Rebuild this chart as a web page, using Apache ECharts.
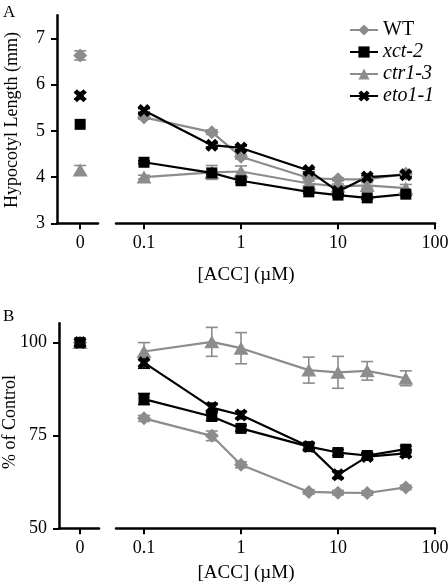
<!DOCTYPE html>
<html><head><meta charset="utf-8">
<script src="https://cdn.jsdelivr.net/npm/echarts@6/dist/echarts.min.js"></script>
<style>html,body{margin:0;padding:0;background:#fff}#c{width:448px;height:588px}</style>
</head><body><div id="c"></div>
<script>
// ---------- data ----------
const genotypes = ['WT', 'xct-2', 'ctr1-3', 'eto1-1'];
const concentrations = [0.1, 0.5, 1, 5, 10, 20, 50];
const xTickValues = [0.1, 1, 10, 100];
const xTickLabels = ['0.1', '1', '10', '100'];
const controlTickLabel = '0';
const lengthTicks = [3, 4, 5, 6, 7];
const percentTicks = [50, 75, 100];

// Panel A: hypocotyl length (mm); control (0 µM) values and errors
const lengthControl    = [6.63, 5.14, 4.15, 5.76];
const lengthControlErr = [0.10, 0.00, 0.10, 0.07];
const lengthWT     = [5.29, 4.97, 4.44, 3.98, 3.95, 3.95, 4.07];
const lengthXct    = [4.32, 4.09, 3.92, 3.68, 3.61, 3.55, 3.63];
const lengthCtr    = [4.00, 4.10, 4.12, 3.86, 3.80, 3.82, 3.76];
const lengthEto    = [5.44, 4.69, 4.63, 4.14, 3.69, 4.00, 4.05];
const lengthWTErr  = [0.04, 0.05, 0.05, 0.03, 0.03, 0.03, 0.05];
const lengthXctErr = [0.03, 0.03, 0.03, 0.03, 0.03, 0.03, 0.03];
const lengthCtrErr = [0.04, 0.15, 0.12, 0.05, 0.05, 0.06, 0.08];
const lengthEtoErr = [0.04, 0.04, 0.04, 0.03, 0.03, 0.03, 0.04];

// Panel B: % of control
const percentControl    = [100, 100, 100, 100];
const percentControlErr = [0, 0, 0, 0];
const percentWT     = [79.6, 74.9, 67.1, 59.8, 59.6, 59.5, 61.0];
const percentXct    = [84.8, 80.1, 76.9, 72.0, 70.4, 69.6, 71.3];
const percentCtr    = [97.6, 100.2, 98.5, 92.6, 92.0, 92.4, 90.4];
const percentEto    = [94.6, 82.5, 80.5, 72.0, 64.4, 69.3, 70.2];
const percentWTErr  = [0.8, 1.3, 0.8, 0.6, 0.6, 0.6, 0.6];
const percentXctErr = [1.5, 1.0, 0.8, 0.8, 0.8, 0.8, 0.8];
const percentCtrErr = [2.4, 3.9, 4.2, 3.5, 4.3, 2.5, 2.0];
const percentEtoErr = [1.5, 1.2, 1.0, 1.0, 1.0, 0.8, 1.0];

// ---------- styles ----------
const GREY = '#8c8c8c', BLACK = '#000000';
const FONT = "'Liberation Serif', 'DejaVu Serif', serif";
const XPATH = 'path://M0,2.5 L2.5,0 L5,2.5 L7.5,0 L10,2.5 L7.5,5 L10,7.5 L7.5,10 L5,7.5 L2.5,10 L0,7.5 L2.5,5 Z';
const styleOf = {
  'WT':     { color: GREY,  symbol: 'diamond',  size: 14 },
  'xct-2':  { color: BLACK, symbol: 'rect',     size: 11 },
  'ctr1-3': { color: GREY,  symbol: 'triangle', size: [15, 13] },
  'eto1-1': { color: BLACK, symbol: XPATH,      size: 13 }
};
const drawOrder = ['WT', 'ctr1-3', 'xct-2', 'eto1-1'];

function errSeries(xi, yi, pts, color) {
  return {
    type: 'custom', xAxisIndex: xi, yAxisIndex: yi, silent: true, z: 1,
    data: pts,
    renderItem(params, api) {
      const x = api.value(0);
      const p1 = api.coord([x, api.value(1)]);
      const p2 = api.coord([x, api.value(2)]);
      const w = 6;
      const st = { stroke: color, lineWidth: 1.6 };
      return { type: 'group', children: [
        { type: 'line', shape: { x1: p1[0], y1: p1[1], x2: p2[0], y2: p2[1] }, style: st },
        { type: 'line', shape: { x1: p1[0] - w, y1: p1[1], x2: p1[0] + w, y2: p1[1] }, style: st },
        { type: 'line', shape: { x1: p2[0] - w, y1: p2[1], x2: p2[0] + w, y2: p2[1] }, style: st }
      ]};
    }
  };
}

function panelSeries(xl, xr, yl, yr, ctrl, ctrlErr, vals, errs) {
  const out = [];
  drawOrder.forEach(name => {
    const gi = genotypes.indexOf(name);
    const s = styleOf[name];
    const v = vals[name], e = errs[name];
    const ep = [];
    concentrations.forEach((c, i) => { if (e[i] > 0) ep.push([Math.log10(c), v[i] - e[i], v[i] + e[i]]); });
    out.push(errSeries(xr, yr, ep, s.color));
    if (ctrlErr[gi] > 0) out.push(errSeries(xl, yl, [[0, ctrl[gi] - ctrlErr[gi], ctrl[gi] + ctrlErr[gi]]], s.color));
    out.push({
      name, type: 'line', xAxisIndex: xr, yAxisIndex: yr, z: 2,
      data: concentrations.map((c, i) => [Math.log10(c), v[i]]),
      symbol: s.symbol, symbolSize: s.size, showSymbol: true,
      itemStyle: { color: s.color, borderWidth: 0 },
      lineStyle: { color: s.color, width: 2.2 },
      animation: false
    });
    out.push({
      name, type: 'scatter', xAxisIndex: xl, yAxisIndex: yl, z: 2,
      data: [[0, ctrl[gi]]],
      symbol: s.symbol, symbolSize: s.size,
      itemStyle: { color: s.color, opacity: 1 },
      animation: false
    });
  });
  return out;
}

const axisLine = { show: true, onZero: false, lineStyle: { color: BLACK, width: 2.5 } };
const axisTick = (vals) => ({ show: true, inside: false, length: 6, lineStyle: { color: BLACK, width: 2 }, customValues: vals });
const labelBase = { color: BLACK, fontFamily: FONT, fontSize: 18 };
const logMin = -1 - 28 / 97;

function leftX(grid, min, max) {
  return { type: 'value', gridIndex: grid, min, max, axisLine, axisTick: axisTick([0]),
    axisLabel: Object.assign({ customValues: [0], margin: 11, formatter: () => controlTickLabel }, labelBase),
    splitLine: { show: false } };
}
function rightX(grid) {
  const lv = xTickValues.map(v => Math.log10(v));
  return { type: 'value', gridIndex: grid, min: logMin, max: 2, axisLine, axisTick: axisTick(lv),
    axisLabel: Object.assign({ customValues: lv, margin: 11,
      formatter: (val) => xTickLabels[lv.findIndex(t => Math.abs(t - val) < 1e-6)] }, labelBase),
    splitLine: { show: false } };
}
function leftY(grid, min, max, ticks) {
  return { type: 'value', gridIndex: grid, min, max, axisLine, axisTick: axisTick(ticks),
    axisLabel: Object.assign({ customValues: ticks, margin: 12 }, labelBase), splitLine: { show: false } };
}
function hiddenY(grid, min, max) {
  return { type: 'value', gridIndex: grid, min, max, show: false, splitLine: { show: false } };
}

const series = [].concat(
  panelSeries(0, 1, 0, 1, lengthControl, lengthControlErr,
    { 'WT': lengthWT, 'xct-2': lengthXct, 'ctr1-3': lengthCtr, 'eto1-1': lengthEto },
    { 'WT': lengthWTErr, 'xct-2': lengthXctErr, 'ctr1-3': lengthCtrErr, 'eto1-1': lengthEtoErr }),
  panelSeries(2, 3, 2, 3, percentControl, percentControlErr,
    { 'WT': percentWT, 'xct-2': percentXct, 'ctr1-3': percentCtr, 'eto1-1': percentEto },
    { 'WT': percentWTErr, 'xct-2': percentXctErr, 'ctr1-3': percentCtrErr, 'eto1-1': percentEtoErr })
);

const gridCommon = { outerBoundsMode: 'none', containLabel: false, show: false };
const option = {
  animation: false,
  backgroundColor: '#ffffff',
  grid: [
    Object.assign({ left: 57,  width: 41,  top: 15.2,  height: 208.1 }, gridCommon),
    Object.assign({ left: 116, width: 319, top: 15.2,  height: 208.1 }, gridCommon),
    Object.assign({ left: 59,  width: 40,  top: 323.3, height: 205 }, gridCommon),
    Object.assign({ left: 116, width: 319, top: 323.3, height: 205 }, gridCommon)
  ],
  xAxis: [leftX(0, -23, 17.7), rightX(1), leftX(2, -21, 19), rightX(3)],
  yAxis: [leftY(0, 3, 7.5, lengthTicks), hiddenY(1, 3, 7.5), leftY(2, 50, 105.2, percentTicks), hiddenY(3, 50, 105.2)],
  legend: {
    data: genotypes, orient: 'vertical', left: 344, top: 14,
    itemWidth: 28, itemHeight: 14, itemGap: 0, selectedMode: false,
    textStyle: { fontFamily: FONT, fontSize: 20, lineHeight: 22, color: BLACK,
      rich: { i: { fontFamily: FONT, fontSize: 20, lineHeight: 22, fontStyle: 'italic', color: BLACK } } },
    formatter: (name) => name === 'WT' ? name : '{i|' + name + '}'
  },
  graphic: [
    { type: 'text', left: 3, top: 4, style: { text: 'A', font: '17px ' + FONT, fill: BLACK } },
    { type: 'text', left: 3, top: 308, style: { text: 'B', font: '17px ' + FONT, fill: BLACK } },
    { type: 'text', x: 12, y: 120, rotation: Math.PI / 2,
      style: { text: 'Hypocotyl Length (mm)', font: '18px ' + FONT, fill: BLACK, align: 'center', verticalAlign: 'middle' } },
    { type: 'text', x: 10, y: 422, rotation: Math.PI / 2,
      style: { text: '% of Control', font: '18px ' + FONT, fill: BLACK, align: 'center', verticalAlign: 'middle' } },
    { type: 'text', x: 246, y: 275.5,
      style: { text: '[ACC] (\u00b5M)', font: '19px ' + FONT, fill: BLACK, align: 'center', verticalAlign: 'middle' } },
    { type: 'text', x: 246, y: 573,
      style: { text: '[ACC] (\u00b5M)', font: '19px ' + FONT, fill: BLACK, align: 'center', verticalAlign: 'middle' } }
  ],
  series
};
const chart = echarts.init(document.getElementById('c'), null, { renderer: 'canvas' });
chart.setOption(option);
</script>
</body></html>
